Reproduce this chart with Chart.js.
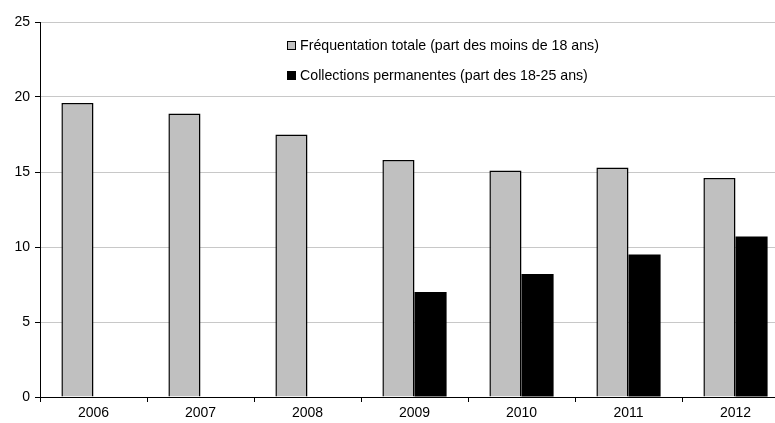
<!DOCTYPE html>
<html>
<head>
<meta charset="utf-8">
<script src="https://cdn.jsdelivr.net/npm/chart.js@4"></script>
<style>
  html, body { margin: 0; padding: 0; background: #fff; overflow: hidden; }
  #wrap { position: relative; width: 775px; height: 423px; overflow: hidden; }
  #legend {
    position: absolute; left: 287px; top: 35px;
    font-family: "Liberation Sans", Arial, sans-serif; font-size: 14.2px; color: #000;
  }
  #legend div { height: 30px; line-height: 20px; white-space: nowrap; }
  #legend span.box {
    display: inline-block; width: 7px; height: 7px; margin-right: 4px;
    border: 1px solid #000; vertical-align: 0px;
  }
</style>
</head>
<body>
<div id="wrap">
  <!-- the original plot runs a little past the right edge of the picture -->
  <canvas id="chart" width="795" height="423"></canvas>
  <div id="legend"></div>
</div>
<script>
  const years = ["2006", "2007", "2008", "2009", "2010", "2011", "2012"];
  const totalMinors = [19.6, 18.9, 17.5, 15.8, 15.1, 15.3, 14.6];
  const permanentYoung = [null, null, null, 7.0, 8.2, 9.5, 10.7];
  const yTicks = [0, 5, 10, 15, 20, 25];
  const seriesNames = [
    "Fréquentation totale (part des moins de 18 ans)",
    "Collections permanentes (part des 18-25 ans)"
  ];
  const seriesColors = ["#c0c0c0", "#000000"];

  // legend (inside plot, top middle)
  const legend = document.getElementById("legend");
  seriesNames.forEach((name, i) => {
    const row = document.createElement("div");
    row.innerHTML = '<span class="box" style="background:' + seriesColors[i] + '"></span>' + name;
    legend.appendChild(row);
  });

  Chart.defaults.font.family = '"Liberation Sans", Arial, sans-serif';
  Chart.defaults.font.size = 14;
  Chart.defaults.color = "#000";

  new Chart(document.getElementById("chart"), {
    type: "bar",
    data: {
      labels: years,
      datasets: [
        {
          label: seriesNames[0],
          data: totalMinors,
          backgroundColor: seriesColors[0],
          borderColor: "#000",
          borderWidth: 1.5,
          categoryPercentage: 0.6,
          barPercentage: 1
        },
        {
          label: seriesNames[1],
          data: permanentYoung,
          backgroundColor: seriesColors[1],
          borderWidth: 0,
          categoryPercentage: 0.6,
          barPercentage: 1
        }
      ]
    },
    options: {
      responsive: false,
      animation: false,
      layout: { padding: { top: 22, right: 6, left: 0, bottom: 0 } },
      plugins: { legend: { display: false }, tooltip: { enabled: false } },
      scales: {
        x: {
          afterFit: (s) => { s.height = 26; },
          border: { color: "#000", width: 1 },
          grid: { offset: true, drawOnChartArea: false, drawTicks: true, tickLength: 5, color: "#000" },
          ticks: { padding: 3 }
        },
        y: {
          min: 0,
          max: 25,
          afterFit: (s) => { s.width = 40; },
          afterBuildTicks: (s) => { s.ticks = yTicks.map((v) => ({ value: v })); },
          border: { color: "#000", width: 1 },
          grid: { color: "#c8c8c8", tickColor: "#000", tickLength: 5 },
          ticks: { padding: 5 }
        }
      }
    }
  });
</script>
</body>
</html>
